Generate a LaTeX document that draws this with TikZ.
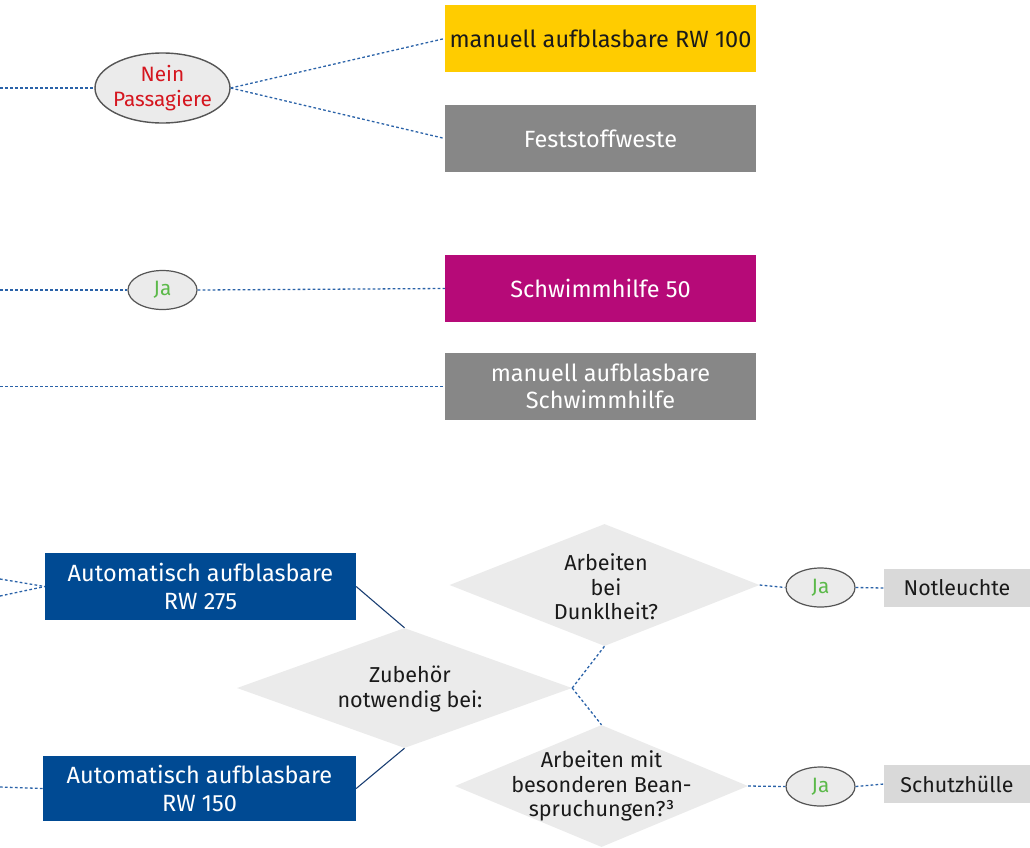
\documentclass[tikz,border=0pt]{standalone}
\usepackage{fontspec}
\setmainfont{Fira Sans}
\usetikzlibrary{shapes.geometric}
\definecolor{cyellow}{HTML}{FFCC00}
\definecolor{cgray}{HTML}{878787}
\definecolor{cmag}{HTML}{B60A78}
\definecolor{cblue}{HTML}{004A93}
\definecolor{clight}{HTML}{EBEBEB}
\definecolor{cbox}{HTML}{D9D9D9}
\definecolor{cred}{HTML}{D5161F}
\definecolor{cgreen}{HTML}{5BB949}
\definecolor{cdot}{HTML}{2A62A8}
\definecolor{cline}{HTML}{1B3F73}
\definecolor{cedge}{HTML}{555555}
\definecolor{ctext}{HTML}{1A1A1A}
\begin{document}
\begin{tikzpicture}[x=1pt,y=-1pt,
  box/.style={rectangle, inner sep=0pt, minimum width=311pt, minimum height=67pt, align=center, font=\fontsize{23.5}{27.5}\selectfont},
  dia/.style={diamond, fill=clight, inner sep=0pt},
  dtext/.style={align=center, font=\fontsize{21.6}{24.5}\selectfont, text=ctext},
  oval/.style={ellipse, fill=clight, draw=cedge, line width=1.4pt, inner sep=0pt, font=\fontsize{20.8}{25}\selectfont, align=center},
  dotline/.style={draw=cdot, line width=1.3pt, dash pattern=on 2.7pt off 2.3pt},
  solidline/.style={draw=cline, line width=1.1pt},
  smallbox/.style={rectangle, fill=cbox, inner sep=0pt, minimum width=146pt, minimum height=38pt, font=\fontsize{21.4}{24}\selectfont, text=ctext}
]
\useasboundingbox (0,0) rectangle (1030,847);

% boxes
\node[box, fill=cyellow, text=ctext] (rw100) at (600.5,38.5) {manuell aufblasbare RW 100};
\node[box, fill=cgray, text=white] (fest) at (600.5,138.5) {Feststoffweste};
\node[box, fill=cmag, text=white] (sh50) at (600.5,288.5) {Schwimmhilfe 50};
\node[box, fill=cgray, text=white] (msh) at (600.5,386.5) {manuell aufblasbare\\Schwimmhilfe};
\node[box, fill=cblue, text=white] (rw275) at (200.5,586.5) {Automatisch aufblasbare\\RW 275};
\node[box, fill=cblue, text=white, minimum width=313pt, minimum height=65pt] (rw150) at (199.5,788.5) {Automatisch aufblasbare\\RW 150};

% ovals
\node[oval, minimum width=135pt, minimum height=70pt, inner sep=-3pt, text=cred] (nein) at (162.5,88) {Nein\\Passagiere};
\node[oval, minimum width=69pt, minimum height=39pt, text=cgreen, line width=1.2pt] (ja1) at (162.5,290) {Ja};
\node[oval, minimum width=69pt, minimum height=39pt, text=cgreen, line width=1.2pt] (ja3) at (820.5,587.5) {Ja};
\node[oval, minimum width=69pt, minimum height=39pt, text=cgreen, line width=1.2pt] (ja4) at (820.5,786.5) {Ja};

% diamonds
\node[dia, minimum width=335pt, minimum height=120pt] (zub) at (404.5,688) {};
\node[dtext] (zubt) at (410,689) {Zubehör\\notwendig bei:};
\node[dia, minimum width=310pt, minimum height=122pt] (dunk) at (604.5,585) {};
\node[dtext] (dunkt) at (606,587) {Arbeiten\\bei\\Dunklheit?};
\node[dia, minimum width=293pt, minimum height=122pt] (bes) at (601.5,786) {};
\node[dtext] (best) at (601.5,786) {Arbeiten mit\\besonderen Bean-\\spruchungen?³};

% small boxes
\node[smallbox] (notl) at (957,588) {Notleuchte};
\node[smallbox] (schutz) at (957,784) {Schutzhülle};

% free ends
\coordinate (l1) at (0,88);
\coordinate (l2) at (0,290);
\coordinate (l3) at (0,386.5);
\coordinate (l4a) at (0,579);
\coordinate (l4b) at (0,596);
\coordinate (l5) at (0,787);

% connectors
\draw[dotline] (l1) -- (nein.west);
\draw[dotline] (nein.east) -- (rw100.west);
\draw[dotline] (nein.east) -- (fest.west);
\draw[dotline] (l2) -- (ja1.west);
\draw[dotline] (ja1.east) -- (sh50.west);
\draw[dotline] (l3) -- (msh.west);
\draw[dotline] (l4a) -- (rw275.west);
\draw[dotline] (l4b) -- (rw275.west);
\draw[dotline] (l5) -- (rw150.west);
\draw[solidline] (rw275.east) -- (zub.north);
\draw[solidline] (rw150.east) -- (zub.south);
\draw[dotline] (zub.east) -- (dunk.south);
\draw[dotline] (zub.east) -- (bes.north);
\draw[dotline] (dunk.east) -- (ja3.west);
\draw[dotline] (ja3.east) -- (notl.west);
\draw[dotline] (bes.east) -- (ja4.west);
\draw[dotline] (ja4.east) -- (schutz.west);
\end{tikzpicture}
\end{document}
